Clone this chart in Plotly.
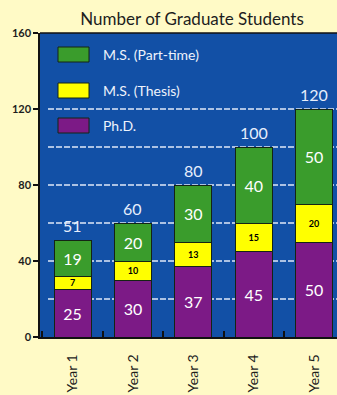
import plotly.graph_objects as go

# Enrollment by program and year
years = ["Year 1", "Year 2", "Year 3", "Year 4", "Year 5"]
phd = [25, 30, 37, 45, 50]
ms_thesis = [7, 10, 13, 15, 20]
ms_parttime = [19, 20, 30, 40, 50]
totals = [51, 60, 80, 100, 120]

y_ticks = [0, 40, 80, 120, 160]
grid_levels = [20, 40, 60, 80, 100, 120]

BLUE = "#1250a6"
GREEN = "#3a9c2c"
YELLOW = "#ffff00"
PURPLE = "#7c1a86"
CREAM = "#fffac6"
OUTLINE = "#142414"
FONT = "Lato"

W, H = 337, 395
L, R, T, B = 40, 0, 33, 58
PW, PH = W - L - R, H - T - B


def px_x(x):
    return (x - L) / PW


def px_y(y):
    return (H - B - y) / PH


fig = go.Figure()

series = [
    ("Ph.D.", phd, PURPLE, "white", 16, "normal"),
    ("M.S. (Thesis)", ms_thesis, YELLOW, "black", 9, "bold"),
    ("M.S. (Part-time)", ms_parttime, GREEN, "white", 16, "normal"),
]

for name, vals, color, tcolor, tsize, tweight in series:
    fig.add_trace(go.Bar(
        x=years, y=vals, name=name,
        marker=dict(color=color, line=dict(color=OUTLINE, width=1)),
        width=0.61,
        text=[str(v) for v in vals],
        textposition="inside", insidetextanchor="middle",
        textangle=0, constraintext="none",
        textfont=dict(family=FONT, size=tsize, color=tcolor, weight=tweight),
        showlegend=False,
        hoverinfo="name+y",
    ))

# Totals above each stack
for yr, tot in zip(years, totals):
    fig.add_annotation(
        x=yr, y=tot, text=str(tot), showarrow=False,
        yanchor="bottom", yshift=3,
        font=dict(family=FONT, size=16, color="#e6eefc"),
    )

# Dashed horizontal guides behind the bars
for g in grid_levels:
    fig.add_shape(
        type="line", xref="paper", yref="y",
        x0=px_x(48), x1=1, y0=g, y1=g,
        line=dict(color="#dfe8f7", width=1.5, dash="6px,2px"),
        layer="below",
    )

# Key in the upper-left corner of the plot
key_rows = [
    ("M.S. (Part-time)", GREEN, 47),
    ("M.S. (Thesis)", YELLOW, 83),
    ("Ph.D.", PURPLE, 118),
]
for label, color, top in key_rows:
    fig.add_shape(
        type="rect", xref="paper", yref="paper",
        x0=px_x(58), x1=px_x(89), y0=px_y(top + 15), y1=px_y(top),
        fillcolor=color, line=dict(color=OUTLINE, width=1),
    )
    fig.add_annotation(
        xref="paper", yref="paper",
        x=px_x(101), y=px_y(top + 7.5), text=label, showarrow=False,
        xanchor="left", yanchor="middle",
        font=dict(family=FONT, size=14, color="#eef3fc"),
    )

fig.update_layout(
    width=W, height=H,
    margin=dict(l=L, r=R, t=T, b=B),
    paper_bgcolor=CREAM, plot_bgcolor=BLUE,
    barmode="stack", bargap=0.39,
    title=dict(
        text="Number of Graduate Students",
        x=192 / W, xref="container", xanchor="center",
        y=1 - 19 / H, yref="container", yanchor="middle",
        font=dict(family=FONT, size=17, color="#1d1d1d"),
    ),
    xaxis=dict(
        range=[-0.54, 4.38],
        showgrid=False, zeroline=False,
        showline=True, linecolor="#111111", linewidth=1.5,
        ticks="inside", tickson="boundaries", ticklen=6,
        tickcolor="#111111", tickwidth=1.5,
        tickangle=-90,
        ticklabelstandoff=10,
        tickfont=dict(family=FONT, size=14, color="#1d1d1d"),
    ),
    yaxis=dict(
        range=[0, 160], tickvals=y_ticks,
        showgrid=False, zeroline=False,
        showline=True, linecolor="#111111", linewidth=1.5,
        mirror=False,
        ticks="outside", ticklen=5, tickcolor="#111111", tickwidth=1.5,
        tickfont=dict(family=FONT, size=11, color="#1d1d1d", weight="bold"),
    ),
    shapes=list(fig.layout.shapes) + [
        dict(type="line", xref="paper", yref="paper",
             x0=0, x1=1, y0=1, y1=1,
             line=dict(color="#111111", width=1.5)),
    ],
)

fig.write_html("out.html")
